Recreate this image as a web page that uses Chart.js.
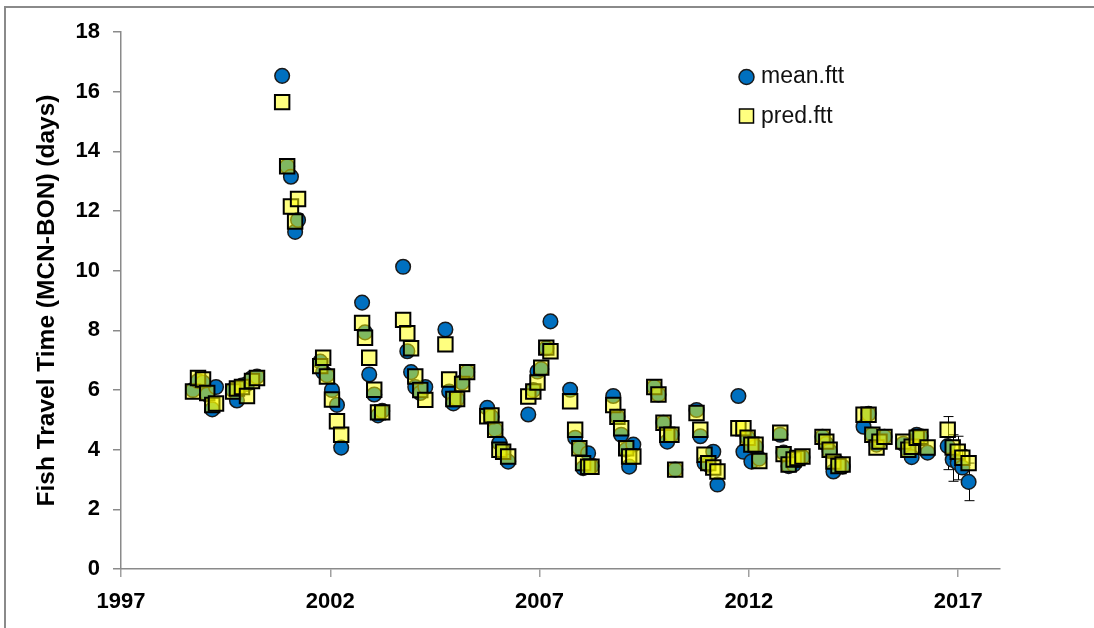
<!DOCTYPE html>
<html>
<head>
<meta charset="utf-8">
<script src="https://cdn.jsdelivr.net/npm/chart.js@4.4.0/dist/chart.umd.min.js"></script>
<style>
  html, body { margin: 0; padding: 0; background: #fff; }
  #wrap { position: relative; width: 1094px; height: 628px; overflow: hidden; }
  #frame { position: absolute; left: 4px; top: 6px; width: 1200px; height: 700px;
           border-left: 2px solid #8a8a8a; border-top: 2px solid #8a8a8a; }
  canvas { position: absolute; left: 0; top: 0; }
</style>
</head>
<body>
<div id="wrap">
  <div id="frame"></div>
  <canvas id="chart" width="1094" height="628"></canvas>
</div>
<script>
// sampling dates (decimal years)
const years = [
  1998.72, 1998.84, 1998.96, 1999.06, 1999.18, 1999.27,
  1999.68, 1999.77, 1999.89, 2000.01, 2000.13, 2000.25,
  2000.85, 2000.97, 2001.06, 2001.16, 2001.23,
  2001.76, 2001.83, 2001.92, 2002.04, 2002.16, 2002.26,
  2002.76, 2002.83, 2002.93, 2003.05, 2003.14, 2003.24,
  2003.74, 2003.84, 2003.93, 2004.03, 2004.15, 2004.27,
  2004.75, 2004.84, 2004.94, 2005.03, 2005.15, 2005.27,
  2005.75, 2005.85, 2005.94, 2006.04, 2006.13, 2006.25,
  2006.73, 2006.85, 2006.95, 2007.04, 2007.16, 2007.26,
  2007.73, 2007.85, 2007.95, 2008.04, 2008.16, 2008.24,
  2008.76, 2008.86, 2008.95, 2009.07, 2009.14, 2009.24,
  2009.74, 2009.84, 2009.96, 2010.05, 2010.15, 2010.24,
  2010.75, 2010.84, 2010.94, 2011.03, 2011.15, 2011.25,
  2011.75, 2011.87, 2011.97, 2012.06, 2012.16, 2012.25,
  2012.75, 2012.83, 2012.95, 2013.07, 2013.16, 2013.28,
  2013.76, 2013.85, 2013.93, 2014.02, 2014.14, 2014.24,
  2014.74, 2014.86, 2014.95, 2015.05, 2015.12, 2015.24,
  2015.69, 2015.81, 2015.89, 2016.01, 2016.10, 2016.27,
  2016.75, 2016.87, 2016.99, 2017.10, 2017.25
];

const meanFtt = [
  6.0, 6.3, 6.25, 5.85, 5.35, 6.1,
  6.0, 5.65, 6.15, 6.2, 6.4, 6.45,
  16.53, 13.5, 13.15, 11.3, 11.7,
  6.95, 6.6, 6.5, 6.0, 5.5, 4.07,
  8.93, 7.93, 6.52, 5.85, 5.15, 5.3,
  10.13, 7.3, 6.6, 6.1, 5.9, 6.1,
  8.03, 5.95, 5.55, 5.7, 6.25, 6.6,
  5.4, 5.1, 4.67, 4.23, 3.95, 3.6,
  5.18, 6.0, 6.62, 6.7, 7.4, 8.3,
  6.01, 4.4, 4.05, 3.38, 3.88, 3.45,
  5.8, 5.1, 4.5, 4.0, 3.43, 4.17,
  6.1, 5.85, 4.9, 4.27, 4.5, 3.33,
  5.33, 4.45, 3.55, 3.5, 3.93, 2.83,
  5.8, 3.93, 4.4, 3.6, 4.1, 3.7,
  4.5, 3.9, 3.45, 3.5, 3.65, 3.75,
  4.43, 4.2, 3.95, 3.27, 3.55, 3.43,
  4.77, 5.2, 4.5, 4.17, 4.3, 4.43,
  4.2, 3.95, 3.75, 4.5, 4.45, 3.9,
  4.12, 3.66, 3.56, 3.4, 2.92
];

const predFtt = [
  5.95, 6.4, 6.35, 5.9, 5.5, 5.55,
  5.95, 6.05, 6.1, 5.8, 6.3, 6.4,
  15.65, 13.5, 12.15, 11.65, 12.4,
  6.8, 7.08, 6.45, 5.68, 4.95, 4.5,
  8.25, 7.75, 7.08, 6.01, 5.25, 5.25,
  8.35, 7.9, 7.4, 6.45, 6.0, 5.67,
  7.53, 6.35, 5.7, 5.7, 6.2, 6.6,
  5.12, 5.15, 4.67, 4.0, 3.93, 3.77,
  5.78, 5.95, 6.25, 6.75, 7.42, 7.3,
  5.62, 4.67, 4.05, 3.55, 3.43, 3.43,
  5.5, 5.1, 4.72, 4.05, 3.77, 3.77,
  6.1, 5.85, 4.9, 4.5, 4.5, 3.33,
  5.23, 4.67, 3.83, 3.55, 3.4, 3.27,
  4.72, 4.72, 4.4, 4.17, 4.17, 3.62,
  4.57, 3.85, 3.5, 3.67, 3.72, 3.77,
  4.43, 4.27, 4.0, 3.6, 3.45, 3.5,
  5.17, 5.17, 4.5, 4.07, 4.27, 4.43,
  4.27, 4.0, 4.1, 4.4, 4.43, 4.07,
  4.67, 4.07, 3.93, 3.73, 3.55
];

// error bars on mean.ftt for the last five samples (2017)
const errLow  = [3.33, 2.94, 2.99, 3.23, 2.29];
const errHigh = [5.11, 4.50, 4.45, 4.00, 3.55];

const xTicks = [1997, 2002, 2007, 2012, 2017];
const yMin = 0, yMax = 18, yStep = 2;

const FONT = '"Liberation Sans", Arial, sans-serif';
const BLUE = '#0070C0';
const YELLOW = 'rgba(255, 255, 0, 0.5)';

const errorBars = {
  id: 'errorBars',
  beforeDatasetsDraw(chart) {
    const { ctx, scales: { x, y } } = chart;
    const start = years.length - errLow.length;
    ctx.save();
    ctx.strokeStyle = '#000';
    ctx.lineWidth = 1;
    errLow.forEach((lo, i) => {
      const px = Math.round(x.getPixelForValue(years[start + i])) + 0.5;
      const pLo = y.getPixelForValue(lo);
      const pHi = y.getPixelForValue(errHigh[i]);
      ctx.beginPath();
      ctx.moveTo(px, pLo); ctx.lineTo(px, pHi);
      ctx.moveTo(px - 5, pLo); ctx.lineTo(px + 5, pLo);
      ctx.moveTo(px - 5, pHi); ctx.lineTo(px + 5, pHi);
      ctx.stroke();
    });
    ctx.restore();
  }
};

const innerLegend = {
  id: 'innerLegend',
  afterDraw(chart) {
    const ctx = chart.ctx;
    const lx = 746.5;
    ctx.save();
    // mean.ftt
    ctx.beginPath();
    ctx.arc(lx, 77, 7.5, 0, Math.PI * 2);
    ctx.fillStyle = BLUE; ctx.fill();
    ctx.lineWidth = 1.5; ctx.strokeStyle = '#1a1a1a'; ctx.stroke();
    // pred.ftt
    ctx.fillStyle = YELLOW;
    ctx.fillRect(739.5, 109, 14, 14);
    ctx.lineWidth = 1.5; ctx.strokeStyle = '#000';
    ctx.strokeRect(739.5, 109, 14, 14);

    ctx.fillStyle = '#111';
    ctx.font = '23px ' + FONT;
    ctx.textBaseline = 'middle';
    ctx.fillText('mean.ftt', 761, 77);
    ctx.fillText('pred.ftt', 761, 117);
    ctx.restore();
  }
};

const ctx = document.getElementById('chart').getContext('2d');
const chart = new Chart(ctx, {
  type: 'scatter',
  data: {
    datasets: [
      {
        label: 'mean.ftt',
        data: years.map((yr, i) => ({ x: yr, y: meanFtt[i] })),
        pointStyle: 'circle',
        pointRadius: 7.3,
        pointBorderWidth: 1.5,
        backgroundColor: BLUE,
        borderColor: '#1a1a1a',
        order: 2
      },
      {
        label: 'pred.ftt',
        data: years.map((yr, i) => ({ x: yr, y: predFtt[i] })),
        pointStyle: 'rect',
        pointRadius: 10.2,
        pointBorderWidth: 2,
        backgroundColor: YELLOW,
        borderColor: '#000',
        order: 1
      }
    ]
  },
  options: {
    responsive: false,
    animation: false,
    layout: { padding: { left: 10, right: 94, top: 32, bottom: 0 } },
    plugins: {
      legend: { display: false },
      tooltip: { enabled: false }
    },
    scales: {
      x: {
        type: 'linear',
        min: 1997,
        max: 2018,
        afterBuildTicks: s => { s.ticks = xTicks.map(v => ({ value: v })); },
        afterFit: s => { s.height = 59; },
        border: { color: '#8a8a8a', width: 1.5 },
        grid: { drawOnChartArea: false, drawTicks: true, tickLength: 8, color: '#a0a0a0', lineWidth: 1.5 },
        ticks: {
          color: '#000',
          padding: 12,
          maxRotation: 0,
          font: { family: FONT, size: 22, weight: 'bold' },
          callback: v => String(v)
        }
      },
      y: {
        min: yMin,
        max: yMax,
        afterFit: s => { s.width = 111; },
        border: { color: '#8a8a8a', width: 1.5 },
        grid: { drawOnChartArea: false, drawTicks: true, tickLength: 8, color: '#8a8a8a', lineWidth: 1.5 },
        ticks: {
          stepSize: yStep,
          color: '#000',
          padding: 13,
          font: { family: FONT, size: 22, weight: 'bold' }
        },
        title: {
          display: true,
          text: 'Fish Travel Time (MCN-BON) (days)',
          color: '#000',
          padding: { top: 23, bottom: 0 },
          font: { family: FONT, size: 24.5, weight: 'bold' }
        }
      }
    }
  },
  plugins: [errorBars, innerLegend]
});
</script>
</body>
</html>
